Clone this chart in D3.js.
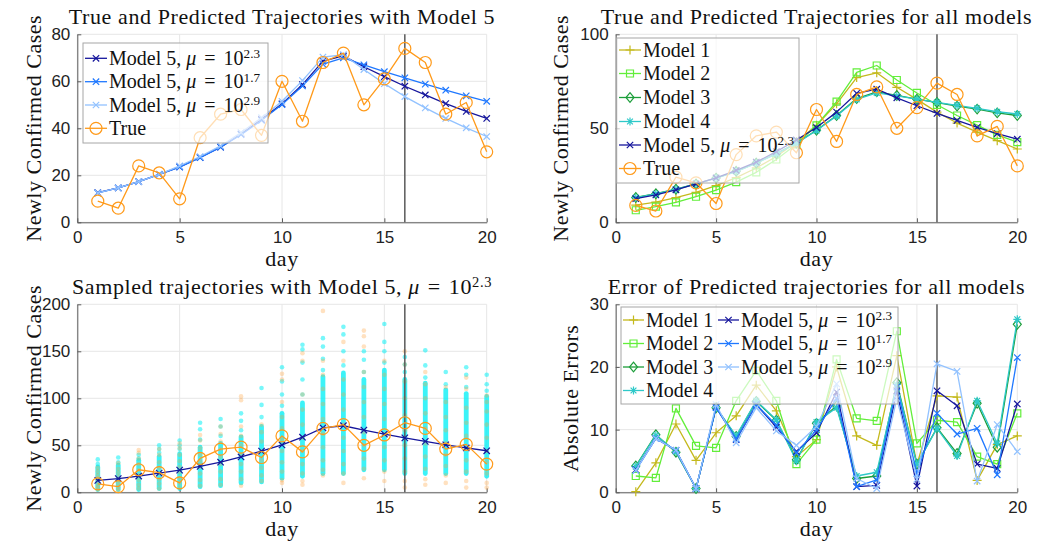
<!DOCTYPE html>
<html>
<head>
<meta charset="utf-8">
<script src="https://cdn.jsdelivr.net/npm/d3@7"></script>
<style>
  body { margin: 0; background: #fff; }
  svg { display: block; }
</style>
</head>
<body>
<svg id="fig" width="1051" height="546"></svg>
<script>
// ---------- data ----------
const days = [1,2,3,4,5,6,7,8,9,10,11,12,13,14,15,16,17,18,19,20];
const splitDay = 16;

const trueCases = [9,6,24,21,10,36,46,48,37,60,43,68,72,50,61,74,68,46,51,30];

// Model 5 predictions for three penalty weights
const m5mu23 = [12.6,14.6,17.3,20.4,23.6,27.6,32.0,37.6,43.8,50.4,58.6,68.6,70.8,66.2,62.0,57.9,54.2,50.5,47.2,44.2];
const m5mu17 = [12.5,14.6,17.3,20.4,23.5,27.5,32.0,37.3,43.4,50.1,58.0,67.3,70.0,67.0,64.1,61.5,58.8,56.2,53.8,51.5];
const m5mu29 = [12.5,14.6,17.3,20.4,24.0,28.0,32.5,38.2,44.5,51.5,60.3,70.3,71.3,65.0,59.0,53.5,48.7,44.2,40.2,36.5];

// Models 1-4 predictions
const model1 = [9.1,10.7,13.1,15.9,19.5,23.8,28.9,35.0,42.7,51.6,63.0,77.0,79.5,71.8,65.4,58.6,52.8,48.0,43.4,39.0];
const model2 = [6.4,8.3,10.6,13.6,17.1,21.4,26.6,33.4,41.5,51.6,64.2,79.8,83.4,75.7,68.8,62.5,56.8,51.7,46.5,42.6];
const model3 = [13.2,15.2,17.6,20.4,23.5,27.1,31.5,36.5,42.2,49.0,56.8,65.8,69.4,67.5,65.5,63.7,61.8,60.2,58.2,56.8];
const model4 = [13.1,15.1,17.5,20.4,23.5,27.0,31.4,36.4,42.0,48.8,56.5,65.4,68.8,67.2,65.5,63.8,62.2,60.6,58.8,57.6];

// absolute errors
const err1 = [0.1,4.7,10.9,5.1,9.5,12.2,17.1,13.0,5.7,8.4,20.0,9.0,7.5,21.8,4.4,15.4,15.2,1.9,7.6,9.0];
const err2 = [2.6,2.3,13.4,7.4,7.1,14.6,19.4,14.6,4.5,8.4,21.2,11.8,11.4,25.7,7.8,11.5,11.2,5.7,4.5,12.6];
const err3 = [4.2,9.2,6.4,0.6,13.5,8.9,14.5,11.5,5.2,11.0,13.8,2.2,2.6,17.5,4.5,10.3,6.2,14.2,7.2,26.8];
const err4 = [4.1,9.1,6.5,0.6,13.5,9.0,14.6,11.6,5.0,11.2,13.5,2.6,3.2,17.2,4.5,10.2,5.8,14.6,7.8,27.6];
const errM5mu23 = [3.6,8.6,6.7,0.6,13.6,8.4,14.0,10.4,6.5,9.5,16.0,0.9,1.1,16.2,1.0,16.2,13.8,4.5,3.8,14.1];
const errM5mu17 = [3.5,8.6,6.7,0.6,13.5,8.5,14.0,10.7,6.3,10.0,15.0,0.9,2.0,16.8,3.0,12.6,9.3,10.2,2.8,21.5];
const errM5mu29 = [3.5,8.6,6.7,0.6,14.0,7.9,13.5,9.8,7.5,10.5,17.3,2.2,0.6,15.0,2.1,20.5,19.3,1.8,10.8,6.5];

// sampled trajectories: dense range per day plus sparse extremes
const simCoreLo = [3,3,3,4,4,6,7,10,11,15,17,20,20,24,24,20,20,20,20,17];
const simCoreHi = [27,29,34,38,41,48,52,59,70,84,95,123,127,120,130,120,116,109,105,102];
const simExtremes = [
  [30,35],[32,37],[36,40],[42,46,50],[46,50,55],[56,67,74],[60,70,78],[66,76,84],
  [80,93,111],[92,104,118,133],[104,120,138,152,157],[130,142,155,164],[135,150,168,176],
  [128,141,150],[138,150,160,179],[128,136,144],[122,135,151],[115,128],[112,125,133],[108,115,125]
];
// noisy observation samples per day
const obsSamples = [
  [3,5,8,12,15,18,22,26],
  [2,5,9,13,17,21,25,31],
  [4,8,13,18,24,30,36,42,45],
  [4,9,14,20,26,32,40,46],
  [5,10,15,21,27,33,40,47,52],
  [7,13,20,27,33,40,47,55,61],
  [8,14,22,30,38,46,54,62,70],
  [7,14,22,30,40,50,60,70,98,102],
  [12,18,26,34,44,54,64,72],
  [10,13,22,32,44,56,68,80,96,120,126],
  [8,12,20,30,44,58,72,88,104,140,148],
  [18,24,34,48,62,78,94,110,125,140,193],
  [10,20,30,44,58,72,88,104,120,140,160],
  [15,25,36,50,64,80,96,112,128,155,166,172],
  [12,22,34,48,62,78,94,110,125,140],
  [5,12,22,36,50,66,82,100,118,136,150],
  [8,14,25,38,52,68,84,100,115,128],
  [10,18,28,40,52,66,80,96,112],
  [5,12,22,34,46,60,74,90,110,122],
  [5,10,20,32,44,58,72,86,96,103]
];

const xTicks = [0,5,10,15,20];

// ---------- style ----------
const SERIF = '"Liberation Serif","DejaVu Serif",serif';
const SANS = '"Liberation Sans",Arial,sans-serif';
const C = {
  mu23: "#16169c", mu17: "#1f78ff", mu29: "#92c2ff", truth: "#ff9a1a",
  m1: "#c4b91c", m2: "#62ee3a", m3: "#1c9e3a", m4: "#2ec9c9",
  sim: "#0af0f6", obs: "#ffa33a"
};

const markerPath = {
  x: "M-3.2,-3.2L3.2,3.2M-3.2,3.2L3.2,-3.2",
  plus: "M-4.5,0H4.5M0,-4.5V4.5",
  square: "M-3.5,-3.5H3.5V3.5H-3.5Z",
  diamond: "M0,-4.8L4,0L0,4.8L-4,0Z",
  star: "M-4,0H4M0,-4V4M-2.9,-2.9L2.9,2.9M-2.9,2.9L2.9,-2.9",
  circle: "M6,0A6,6 0 1,1 -6,0A6,6 0 1,1 6,0Z"
};

const svg = d3.select("#fig");

function serifText(sel, size, spacing) {
  return sel.attr("font-family", SERIF).attr("font-size", size)
    .attr("letter-spacing", spacing || 0).attr("fill", "#111");
}

function rich(sel, parts) {
  parts.forEach(p => {
    const ts = sel.append("tspan").text(p.t);
    if (p.it) ts.attr("font-style", "italic");
    if (p.dx) ts.attr("dx", p.dx);
    if (p.sup) ts.attr("font-size", "0.66em").attr("dy", "-0.5em");
  });
  return sel;
}
// "Model 5, μ = 10^e" with math-style spacing
const muParts = e => [{t: "Model 5,"}, {t: "μ", it: true, dx: 5}, {t: "=", dx: 8}, {t: "10", dx: 8}, {t: e, sup: true}];

function panel(cfg) {
  const g = svg.append("g");
  const x = d3.scaleLinear().domain([0, 20]).range([cfg.left, cfg.right]);
  const y = d3.scaleLinear().domain([0, cfg.ymax]).range([cfg.bottom, cfg.top]);

  // grid
  g.append("g").selectAll("line").data(xTicks).join("line")
    .attr("x1", d => x(d)).attr("x2", d => x(d))
    .attr("y1", cfg.top).attr("y2", cfg.bottom)
    .attr("stroke", "#e6e6e6").attr("stroke-width", 1);
  g.append("g").selectAll("line").data(cfg.yTicks).join("line")
    .attr("x1", cfg.left).attr("x2", cfg.right)
    .attr("y1", d => y(d)).attr("y2", d => y(d))
    .attr("stroke", "#e6e6e6").attr("stroke-width", 1);

  // axes
  const ax = g.append("g").attr("transform", `translate(0,${cfg.bottom})`)
    .call(d3.axisBottom(x).tickValues(xTicks).tickSizeInner(-4).tickSizeOuter(0).tickPadding(9));
  const ay = g.append("g").attr("transform", `translate(${cfg.left},0)`)
    .call(d3.axisLeft(y).tickValues(cfg.yTicks).tickSizeInner(-4).tickSizeOuter(0).tickPadding(7));
  [ax, ay].forEach(a => {
    a.selectAll("path.domain").attr("stroke", "#5c5c5c");
    a.selectAll(".tick line").attr("stroke", "#5c5c5c");
    a.selectAll(".tick text").attr("font-family", SANS).attr("font-size", 17).attr("fill", "#222");
  });

  // title and labels
  rich(serifText(g.append("text").attr("x", (cfg.left + cfg.right) / 2).attr("y", cfg.titleY)
    .attr("text-anchor", "middle"), 22, "0.6px"), cfg.title);
  serifText(g.append("text").attr("x", (cfg.left + cfg.right) / 2).attr("y", cfg.bottom + 44)
    .attr("text-anchor", "middle"), 22, "0.6px").text("day");
  serifText(g.append("text").attr("transform", `translate(${cfg.ylabelX},${(cfg.top + cfg.bottom) / 2}) rotate(-90)`)
    .attr("text-anchor", "middle"), 22, "0.5px").text(cfg.ylabel);

  const layer = g.append("g");
  return {g: layer, x, y, cfg, root: g};
}

function splitLine(p) {
  p.g.append("line").attr("x1", p.x(splitDay)).attr("x2", p.x(splitDay))
    .attr("y1", p.cfg.top).attr("y2", p.cfg.bottom)
    .attr("stroke", "#5a5a5a").attr("stroke-width", 1.5);
}

function series(p, vals, color, marker, width) {
  const line = d3.line().x((d, i) => p.x(days[i])).y(d => p.y(d));
  p.g.append("path").attr("d", line(vals)).attr("fill", "none")
    .attr("stroke", color).attr("stroke-width", width || 1.3).attr("stroke-linejoin", "round");
  p.g.append("g").selectAll("path").data(vals).join("path")
    .attr("transform", (d, i) => `translate(${p.x(days[i])},${p.y(d)})`)
    .attr("d", markerPath[marker]).attr("fill", "none")
    .attr("stroke", color).attr("stroke-width", 1.2);
}

function legend(p, box, entries) {
  const lg = p.root.append("g");
  lg.append("rect").attr("x", box.x).attr("y", box.y).attr("width", box.w).attr("height", box.h)
    .attr("fill", "#fff").attr("fill-opacity", 0.68).attr("stroke", "#a6a6a6").attr("stroke-width", 1);
  entries.forEach(e => {
    lg.append("line").attr("x1", e.x).attr("x2", e.x + e.len).attr("y1", e.y).attr("y2", e.y)
      .attr("stroke", e.color).attr("stroke-width", 1.3);
    lg.append("path").attr("transform", `translate(${e.x + e.len / 2},${e.y})`)
      .attr("d", markerPath[e.marker]).attr("fill", "none").attr("stroke", e.color).attr("stroke-width", 1.2);
    rich(serifText(lg.append("text").attr("x", e.x + e.len + 2).attr("y", e.y + 6.5), 20),
      typeof e.label === "string" ? [{t: e.label}] : e.label);
  });
}

// ---------- top left ----------
const pTL = panel({left: 77.3, right: 486.7, top: 34.3, bottom: 222.3, ymax: 80,
  yTicks: [0,20,40,60,80], titleY: 24, ylabelX: 41,
  title: [{t: "True and Predicted Trajectories with Model 5"}], ylabel: "Newly Confirmed Cases"});
splitLine(pTL);
series(pTL, m5mu23, C.mu23, "x");
series(pTL, m5mu17, C.mu17, "x");
series(pTL, m5mu29, C.mu29, "x");
series(pTL, trueCases, C.truth, "circle");
legend(pTL, {x: 83, y: 43, w: 185, h: 100}, [
  {x: 85, y: 58.3, len: 22, color: C.mu23, marker: "x", label: muParts("2.3")},
  {x: 85, y: 81.7, len: 22, color: C.mu17, marker: "x", label: muParts("1.7")},
  {x: 85, y: 105, len: 22, color: C.mu29, marker: "x", label: muParts("2.9")},
  {x: 85, y: 128.3, len: 22, color: C.truth, marker: "circle", label: "True"}
]);

// ---------- top right ----------
const pTR = panel({left: 615.7, right: 1017.3, top: 34.3, bottom: 222.3, ymax: 100,
  yTicks: [0,50,100], titleY: 24, ylabelX: 568,
  title: [{t: "True and Predicted Trajectories for all models"}], ylabel: "Newly Confirmed Cases"});
splitLine(pTR);
series(pTR, model1, C.m1, "plus");
series(pTR, model2, C.m2, "square");
series(pTR, model3, C.m3, "diamond");
series(pTR, model4, C.m4, "star");
series(pTR, m5mu23, C.mu23, "x");
series(pTR, trueCases, C.truth, "circle");
legend(pTR, {x: 616.7, y: 38, w: 182.3, h: 145}, [
  {x: 619, y: 50, len: 22, color: C.m1, marker: "plus", label: "Model 1"},
  {x: 619, y: 73.5, len: 22, color: C.m2, marker: "square", label: "Model 2"},
  {x: 619, y: 97.5, len: 22, color: C.m3, marker: "diamond", label: "Model 3"},
  {x: 619, y: 121.5, len: 22, color: C.m4, marker: "star", label: "Model 4"},
  {x: 619, y: 145, len: 22, color: C.mu23, marker: "x", label: muParts("2.3")},
  {x: 619, y: 168.5, len: 22, color: C.truth, marker: "circle", label: "True"}
]);

// ---------- bottom left ----------
const pBL = panel({left: 77.3, right: 486.7, top: 304.3, bottom: 492.3, ymax: 200,
  yTicks: [0,50,100,150,200], titleY: 294, ylabelX: 41,
  title: [{t: "Sampled trajectories with Model 5,"}, {t: "μ", it: true, dx: 6}, {t: "=", dx: 8}, {t: "10", dx: 8}, {t: "2.3", sup: true}],
  ylabel: "Newly Confirmed Cases"});
// dense sample columns
pBL.g.append("g").selectAll("rect").data(days).join("rect")
  .attr("x", d => pBL.x(d) - 2.4).attr("width", 4.8)
  .attr("y", (d, i) => pBL.y(simCoreHi[i]) - 2.4)
  .attr("height", (d, i) => pBL.y(simCoreLo[i]) - pBL.y(simCoreHi[i]) + 4.8)
  .attr("rx", 2.4).attr("fill", C.sim).attr("fill-opacity", 0.8);
const extremes = simExtremes.flatMap((vs, i) => vs.map(v => [days[i], v]));
pBL.g.append("g").selectAll("circle").data(extremes).join("circle")
  .attr("cx", d => pBL.x(d[0])).attr("cy", d => pBL.y(d[1])).attr("r", 2.3)
  .attr("fill", C.sim).attr("fill-opacity", 0.55);
const obs = obsSamples.flatMap((vs, i) => vs.map(v => [days[i], v]));
pBL.g.append("g").selectAll("circle").data(obs).join("circle")
  .attr("cx", d => pBL.x(d[0])).attr("cy", d => pBL.y(d[1])).attr("r", 2.3)
  .attr("fill", C.obs).attr("fill-opacity", 0.32);
splitLine(pBL);
series(pBL, m5mu23, C.mu23, "x");
series(pBL, trueCases, C.truth, "circle");

// ---------- bottom right ----------
const pBR = panel({left: 615.7, right: 1017.3, top: 304.3, bottom: 492.3, ymax: 30,
  yTicks: [0,10,20,30], titleY: 294, ylabelX: 578,
  title: [{t: "Error of Predicted trajectories for all models"}], ylabel: "Absolute Errors"});
splitLine(pBR);
series(pBR, err1, C.m1, "plus");
series(pBR, err2, C.m2, "square");
series(pBR, err3, C.m3, "diamond");
series(pBR, err4, C.m4, "star");
series(pBR, errM5mu23, C.mu23, "x");
series(pBR, errM5mu17, C.mu17, "x");
series(pBR, errM5mu29, C.mu29, "x");
legend(pBR, {x: 621, y: 307, w: 277, h: 97}, [
  {x: 623, y: 320, len: 21, color: C.m1, marker: "plus", label: "Model 1"},
  {x: 623, y: 343.5, len: 21, color: C.m2, marker: "square", label: "Model 2"},
  {x: 623, y: 367, len: 21, color: C.m3, marker: "diamond", label: "Model 3"},
  {x: 623, y: 390.5, len: 21, color: C.m4, marker: "star", label: "Model 4"},
  {x: 718, y: 320, len: 21, color: C.mu23, marker: "x", label: muParts("2.3")},
  {x: 718, y: 343.5, len: 21, color: C.mu17, marker: "x", label: muParts("1.7")},
  {x: 718, y: 367, len: 21, color: C.mu29, marker: "x", label: muParts("2.9")}
]);
</script>
</body>
</html>
